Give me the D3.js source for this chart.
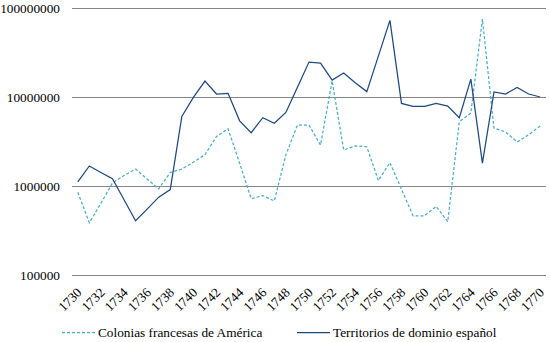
<!DOCTYPE html>
<html>
<head>
<meta charset="utf-8">
<script src="https://cdn.jsdelivr.net/npm/d3@7"></script>
<style>
  body { margin: 0; background: #fff; }
</style>
</head>
<body>
<svg id="chart" width="549" height="342" font-family="'Liberation Serif', 'DejaVu Serif', serif" font-size="13.3"></svg>
<script>
    'use strict';

    var years = d3.range(1730, 1771);
    var yTicks = [100000, 1000000, 10000000, 100000000];

    // Colonias francesas de América
    var francesas = [
        850000, 387000, 640000, 1080000, 1310000, 1550000, 1200000, 930000, 1420000, 1550000,
        1850000, 2250000, 3600000, 4400000, 1800000, 720000, 780000, 680000, 2240000, 4840000,
        4840000, 2880000, 15200000, 2540000, 2820000, 2760000, 1150000, 1830000, 920000, 463000,
        463000, 590000, 398000, 5270000, 6600000, 75000000, 4470000, 4050000, 3120000, 3760000,
        4720000
    ];

    // Territorios de dominio español
    var espanol = [
        1110000, 1680000, 1420000, 1210000, 700000, 407000, 550000, 750000, 910000, 6050000,
        9900000, 15100000, 10800000, 11000000, 5400000, 3970000, 5850000, 5070000, 6700000, 12900000,
        24700000, 24000000, 15500000, 18600000, 14500000, 11500000, 28800000, 72600000, 8470000, 7850000,
        7850000, 8500000, 7900000, 5850000, 15900000, 1810000, 11400000, 10800000, 12800000, 10800000,
        10000000
    ];

    var series = [
        { name: 'Colonias francesas de América', values: francesas, color: '#4BACC6', dash: '3,2' },
        { name: 'Territorios de dominio español', values: espanol, color: '#1F497D', dash: null }
    ];

    var svg = d3.select('#chart');
    var plotLeft = 72, plotRight = 546, plotTop = 8, plotBottom = 275;

    var x = d3.scalePoint()
        .domain(years)
        .range([plotLeft, plotRight])
        .padding(0.5);

    var y = d3.scaleLog()
        .domain([100000, 100000000])
        .range([plotBottom, plotTop]);

    // gridlines
    svg.append('g')
        .selectAll('line')
        .data(yTicks)
        .enter()
        .append('line')
        .attr('x1', plotLeft)
        .attr('x2', plotRight)
        .attr('y1', function(d) { return Math.round(y(d)) + 0.5; })
        .attr('y2', function(d) { return Math.round(y(d)) + 0.5; })
        .style('stroke', '#868686')
        .style('stroke-width', 1);

    // y axis labels
    var yAxis = d3.axisLeft(y)
        .tickValues(yTicks)
        .tickFormat(d3.format('d'))
        .tickSize(0)
        .tickPadding(12);
    svg.append('g')
        .attr('transform', 'translate(' + plotLeft + ',0)')
        .call(yAxis)
        .attr('font-family', null)
        .attr('font-size', null)
        .call(function(g) { g.select('.domain').remove(); })
        .selectAll('text')
        .attr('fill', '#000');

    // x axis labels, every second year
    var xAxis = d3.axisBottom(x)
        .tickValues(years.filter(function(d, i) { return i % 2 === 0; }))
        .tickFormat(d3.format('d'))
        .tickSize(0);
    var xg = svg.append('g')
        .attr('transform', 'translate(0,' + plotBottom + ')')
        .call(xAxis)
        .attr('font-family', null)
        .attr('font-size', null);
    xg.select('.domain').remove();
    xg.selectAll('text')
        .attr('fill', '#000')
        .style('text-anchor', 'end')
        .attr('x', 0)
        .attr('y', 0)
        .attr('dy', '0.35em')
        .attr('transform', 'translate(1,15) rotate(-45)');

    // lines
    var line = d3.line()
        .x(function(d, i) { return x(years[i]); })
        .y(function(d) { return y(d); });

    series.forEach(function(s) {
        svg.append('path')
            .datum(s.values)
            .attr('d', line)
            .style('fill', 'none')
            .style('stroke', s.color)
            .style('stroke-width', 1.25)
            .style('stroke-dasharray', s.dash);
    });

    // legend
    var legendX = [62, 297];
    var legend = svg.append('g')
        .selectAll('g')
        .data(series)
        .enter()
        .append('g')
        .attr('transform', function(d, i) { return 'translate(' + legendX[i] + ',332)'; });

    legend.append('line')
        .attr('x1', 0)
        .attr('x2', 33)
        .attr('y1', 0.5)
        .attr('y2', 0.5)
        .style('stroke', function(d) { return d.color; })
        .style('stroke-width', 1.25)
        .style('stroke-dasharray', function(d) { return d.dash; });

    legend.append('text')
        .attr('x', 36)
        .attr('y', 4.5)
        .text(function(d) { return d.name; });
</script>
</body>
</html>
